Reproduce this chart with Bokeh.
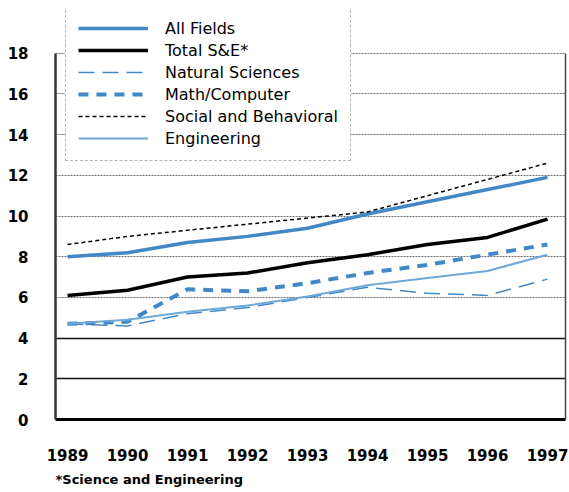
from bokeh.plotting import figure
from bokeh.models import FixedTicker, Legend, LegendItem, Grid, Title, Range1d, LinearAxis
from bokeh.embed import file_html
from bokeh.resources import INLINE

years = [1989, 1990, 1991, 1992, 1993, 1994, 1995, 1996, 1997]
year_labels = ["1989", "1990", "1991", "1992", "1993", "1994", "1995", "1996", "1997"]
all_fields = [8.0, 8.2, 8.7, 9.0, 9.4, 10.1, 10.7, 11.3, 11.9]
total_se = [6.1, 6.35, 7.0, 7.2, 7.7, 8.1, 8.6, 8.95, 9.85]
natural_sci = [4.7, 4.6, 5.2, 5.5, 6.0, 6.5, 6.2, 6.1, 6.9]
math_comp = [4.7, 4.8, 6.4, 6.3, 6.7, 7.2, 7.6, 8.1, 8.6]
social_beh = [8.6, 9.0, 9.3, 9.6, 9.9, 10.2, 11.0, 11.8, 12.6]
engineering = [4.7, 4.9, 5.3, 5.6, 6.05, 6.6, 6.95, 7.3, 8.1]
y_ticks = [0, 2, 4, 6, 8, 10, 12, 14, 16, 18]
series_names = ["All Fields", "Total S&E*", "Natural Sciences", "Math/Computer",
                "Social and Behavioral", "Engineering"]
footnote = "*Science and Engineering"

BLUE = "#4288c6"
LIGHT_BLUE = "#6fa8d8"
FONT = "DejaVu Sans"

# frame top sits at the legend's top; the axes end at 18
p = figure(width=569, height=492, output_backend="svg", toolbar_location=None,
           x_range=Range1d(1988.8, 1997.3), y_range=Range1d(0, 20.2),
           min_border_left=55, min_border_right=4, min_border_top=8, min_border_bottom=10)

p.xgrid.visible = False
p.ygrid.visible = False
upper_grid = Grid(dimension=1, ticker=FixedTicker(ticks=[t for t in y_ticks if t >= 6]),
                  grid_line_color="#6e6e6e", grid_line_width=1, grid_line_dash="2 1")
lower_grid = Grid(dimension=1, ticker=FixedTicker(ticks=[t for t in y_ticks if t < 6]),
                  grid_line_color="#111111", grid_line_width=1.5)
p.add_layout(upper_grid)
p.add_layout(lower_grid)

p.outline_line_color = None

r_all = p.line(years, all_fields, line_color=BLUE, line_width=3.5)
r_tot = p.line(years, total_se, line_color="black", line_width=3.5)
r_nat = p.line(years, natural_sci, line_color=BLUE, line_width=1.5, line_dash="16 8")
r_math = p.line(years, math_comp, line_color=BLUE, line_width=4, line_dash="10 8")
r_soc = p.line(years, social_beh, line_color="black", line_width=1.5, line_dash="4 3")
r_eng = p.line(years, engineering, line_color=LIGHT_BLUE, line_width=2)

# axes
p.xaxis.ticker = FixedTicker(ticks=years)
p.xaxis.major_label_overrides = {y: l for y, l in zip(years, year_labels)}
p.yaxis.ticker = FixedTicker(ticks=y_ticks)
p.yaxis.bounds = (0, 18)
for ax in (p.xaxis[0], p.yaxis[0]):
    ax.major_tick_in = 0
    ax.major_tick_out = 0
    ax.minor_tick_in = 0
    ax.minor_tick_out = 0
    ax.major_label_text_font = FONT
    ax.major_label_text_font_style = "bold"
    ax.major_label_text_font_size = "15px"
    ax.major_label_text_color = "black"
p.xaxis.axis_line_color = "black"
p.xaxis.axis_line_width = 3
p.yaxis.axis_line_color = "#333333"
p.yaxis.axis_line_width = 2.5
p.xaxis.major_label_standoff = 29
p.yaxis.major_label_standoff = 27

right_axis = LinearAxis(bounds=(0, 18), ticker=FixedTicker(ticks=[]),
                        axis_line_color="#444444", axis_line_width=1.5,
                        major_tick_in=0, major_tick_out=0, minor_tick_in=0, minor_tick_out=0,
                        major_label_text_font_size="0px")
p.add_layout(right_axis, "right")

legend = Legend(items=[LegendItem(label=n, renderers=[r]) for n, r in
                       zip(series_names, [r_all, r_tot, r_nat, r_math, r_soc, r_eng])],
                location=(10, 258))
legend.label_text_font = FONT
legend.label_text_font_size = "16px"
legend.label_text_color = "black"
legend.glyph_width = 70
legend.glyph_height = 20
legend.label_height = 20
legend.label_standoff = 17
legend.spacing = 2
legend.padding = 12
legend.margin = 0
legend.border_line_color = "#6e6e6e"
legend.border_line_dash = "2 1"
legend.border_line_width = 1
legend.background_fill_color = "white"
legend.background_fill_alpha = 1
p.add_layout(legend)

p.add_layout(Title(text=footnote, align="left", text_font=FONT, text_font_style="bold",
                   text_font_size="13px", text_color="black", standoff=12), "below")

open("out.html", "w").write(file_html(p, INLINE))
